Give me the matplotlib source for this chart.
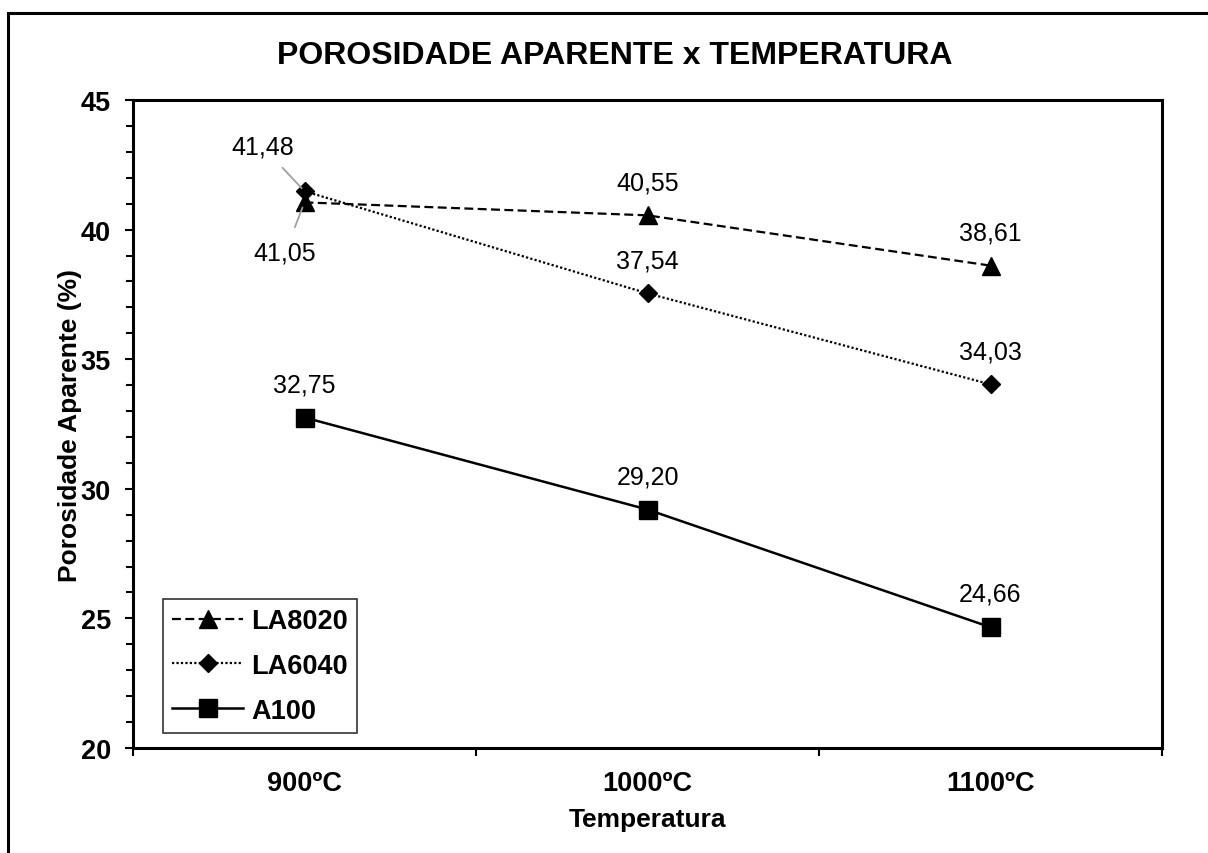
import matplotlib
matplotlib.use("Agg")
import matplotlib.pyplot as plt
from matplotlib.patches import Rectangle

plt.rcParams['font.family'] = ['Liberation Sans', 'DejaVu Sans']

categories = ['900ºC', '1000ºC', '1100ºC']
la8020 = [41.05, 40.55, 38.61]
la6040 = [41.48, 37.54, 34.03]
a100 = [32.75, 29.20, 24.66]
series_names = ['LA8020', 'LA6040', 'A100']
title = 'POROSIDADE APARENTE x TEMPERATURA'
xlabel = 'Temperatura'
ylabel = 'Porosidade Aparente (%)'
yticks = [20, 25, 30, 35, 40, 45]

W, H = 1208, 854
fig = plt.figure(figsize=(W / 100, H / 100), dpi=100)
ax = fig.add_axes([133 / W, 1 - 749 / H, (1162 - 133) / W, (749 - 101) / H])

x = list(range(len(categories)))
l1, = ax.plot(x, la8020, color='black', lw=1.6, ls=(0, (4, 2)), marker='^', ms=13, label=series_names[0], zorder=3)
l2, = ax.plot(x, la6040, color='black', lw=1.6, ls=(0, (1, 1)), marker='D', ms=9, label=series_names[1], zorder=3)
l3, = ax.plot(x, a100, color='black', lw=1.8, ls='-', marker='s', ms=13, label=series_names[2], zorder=3)

ax.set_xlim(-0.5, len(categories) - 0.5)
ax.set_ylim(20, 45)
ax.set_yticks(yticks)
ax.set_yticks(range(20, 46), minor=True)
ax.set_yticklabels([str(v) for v in yticks], fontsize=19.5, fontweight='bold')

ax.set_xticks([i - 0.5 for i in range(len(categories) + 1)])
ax.set_xticklabels([])
ax.set_xticks(x, minor=True)
ax.set_xticklabels(categories, minor=True, fontsize=19.5, fontweight='bold')
ax.tick_params(axis='x', which='minor', length=0, pad=16)
ax.tick_params(axis='x', which='major', length=6, width=1.5, direction='out')
ax.tick_params(axis='y', which='major', length=6, width=1.5, direction='out', pad=10)
ax.tick_params(axis='y', which='minor', length=5, width=1.5, direction='out')

for s in ax.spines.values():
    s.set_linewidth(2.2)

ax.set_xlabel(xlabel, fontsize=19, fontweight='bold', va='center')
ax.xaxis.set_label_coords(0.5, (749 - 820) / 648)
ax.set_ylabel(ylabel, fontsize=19, fontweight='bold', va='center')
ax.yaxis.set_label_coords((70 - 133) / 1029, 0.5)

fig.text(615 / W, 1 - 56 / H, title, fontsize=23, fontweight='bold', ha='center', va='center')

# data labels
lab_kw = dict(textcoords='offset points', fontsize=18, ha='center', va='center')
for i in (1, 2):
    ax.annotate(f'{la8020[i]:.2f}'.replace('.', ','), (x[i], la8020[i]), xytext=(0, 24), **lab_kw)
    ax.annotate(f'{la6040[i]:.2f}'.replace('.', ','), (x[i], la6040[i]), xytext=(0, 24), **lab_kw)
for i in range(3):
    ax.annotate(f'{a100[i]:.2f}'.replace('.', ','), (x[i], a100[i]), xytext=(0, 24), **lab_kw)

ax.annotate(f'{la6040[0]:.2f}'.replace('.', ','), (x[0], la6040[0]), xytext=(-30, 32),
            arrowprops=dict(arrowstyle='-', color='#a0a0a0', lw=1.3, shrinkA=6, shrinkB=3), **lab_kw)
ax.annotate(f'{la8020[0]:.2f}'.replace('.', ','), (x[0], la8020[0]), xytext=(-14, -36),
            arrowprops=dict(arrowstyle='-', color='#a0a0a0', lw=1.3, shrinkA=8, shrinkB=4), **lab_kw)

leg = ax.legend(handles=[l1, l2, l3], loc='lower left', bbox_to_anchor=(30 / 1029, 15 / 648),
                prop={'size': 19.5, 'weight': 'bold'}, frameon=True, fancybox=False,
                edgecolor='black', handlelength=2.6, labelspacing=0.69, borderpad=0.35,
                handletextpad=0.3, borderaxespad=0)
leg.get_frame().set_linewidth(1.2)

# outer chart-area border
fig.add_artist(Rectangle((8 / W, -0.1), 1.2, 1 - 14 / H + 0.1, transform=fig.transFigure,
                         fill=False, ec='black', lw=2.2))

fig.savefig('out.png', dpi=100)
